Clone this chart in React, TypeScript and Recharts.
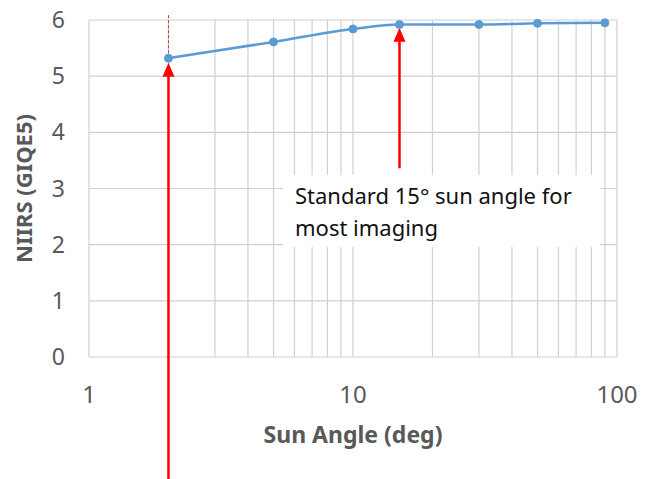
import React from "react";
import { LineChart, Line, XAxis, YAxis, CartesianGrid, ReferenceLine } from "recharts";

const sunAngles = [2, 5, 10, 15, 30, 50, 90];
const niirs = [5.32, 5.61, 5.84, 5.92, 5.92, 5.94, 5.95];
const xTicks = [1, 10, 100];
const yTicks = [0, 1, 2, 3, 4, 5, 6];
const minorGrid = [1, 2, 3, 4, 5, 6, 7, 8, 9, 10, 20, 30, 40, 50, 60, 70, 80, 90, 100];
const lowArrow = { x: 2, from: -2.2, to: 5.24 };
const lowDash = { x: 2, from: 5.32, to: 6.1 };
const stdArrow = { x: 15, from: 3.36, to: 5.86 };
const noteLines = ["Standard 15° sun angle for", "most imaging"];

const data = sunAngles.map((a, i) => ({ angle: a, niirs: niirs[i] }));

const GRAY = "#595959";
const GRID = "#d0d0d0";
const FONT = "'Noto Sans', 'Open Sans', sans-serif";

const arrowShape = (p: any) => {
  const { x1, y1, x2, y2 } = p;
  const h = 14;
  const w = 6;
  return (
    <g>
      <line x1={x1} y1={y1} x2={x2} y2={y2 + h - 1} stroke="#ff0000" strokeWidth={2.5} />
      <polygon points={`${x2},${y2} ${x2 - w},${y2 + h} ${x2 + w},${y2 + h}`} fill="#ff0000" />
    </g>
  );
};

export default function App() {
  return (
    <div style={{ position: "absolute", left: 0, top: 0, width: 652, height: 479, background: "#fff", fontFamily: FONT }}>
      <LineChart width={652} height={479} data={data} margin={{ top: 20, right: 35, bottom: 0, left: 0 }}>
        <CartesianGrid vertical={false} stroke={GRID} strokeWidth={1.2} />
        {minorGrid.map((v) => (
          <ReferenceLine key={v} x={v} stroke={GRID} strokeWidth={1.2} ifOverflow="visible" />
        ))}
        <XAxis
          dataKey="angle"
          type="number"
          scale="log"
          domain={[1, 100]}
          ticks={xTicks}
          allowDataOverflow
          axisLine={false}
          tickLine={false}
          tickSize={0}
          tickMargin={29}
          height={122}
          tick={{ fill: GRAY, fontSize: 24, fontFamily: FONT }}
          label={{ value: "Sun Angle (deg)", position: "insideTop", offset: 70, fill: GRAY, fontSize: 23, fontWeight: "bold", fontFamily: FONT }}
        />
        <YAxis
          type="number"
          domain={[0, 6]}
          ticks={yTicks}
          axisLine={false}
          tickLine={false}
          tickSize={0}
          tickMargin={24}
          width={89}
          tick={{ fill: GRAY, fontSize: 23, fontFamily: FONT }}
          label={{ value: "NIIRS (GIQE5)", angle: -90, position: "insideLeft", offset: 24, fill: GRAY, fontSize: 22, fontWeight: "bold", fontFamily: FONT, style: { textAnchor: "middle" } }}
        />
        <ReferenceLine
          segment={[{ x: lowDash.x, y: lowDash.from }, { x: lowDash.x, y: lowDash.to }]}
          stroke="#e03030"
          strokeWidth={1}
          strokeDasharray="3 2"
          ifOverflow="visible"
        />
        <Line
          type="monotone"
          dataKey="niirs"
          stroke="#5b9bd5"
          strokeWidth={2.5}
          dot={{ r: 4, fill: "#5b9bd5", stroke: "#5b9bd5", strokeWidth: 1 }}
          isAnimationActive={false}
        />
        <ReferenceLine
          segment={[{ x: lowArrow.x, y: lowArrow.from }, { x: lowArrow.x, y: lowArrow.to }]}
          shape={arrowShape}
          ifOverflow="visible"
        />
        <ReferenceLine
          segment={[{ x: stdArrow.x, y: stdArrow.from }, { x: stdArrow.x, y: stdArrow.to }]}
          shape={arrowShape}
          ifOverflow="visible"
        />
      </LineChart>
      <div
        style={{
          position: "absolute",
          left: 283,
          top: 175,
          width: 317,
          height: 72,
          background: "#fff",
          boxSizing: "border-box",
          paddingLeft: 12,
          paddingTop: 4,
          fontSize: 22,
          lineHeight: "32px",
          color: "#111",
          fontFamily: FONT,
          whiteSpace: "nowrap",
        }}
      >
        {noteLines.map((t) => (
          <div key={t}>{t}</div>
        ))}
      </div>
    </div>
  );
}
